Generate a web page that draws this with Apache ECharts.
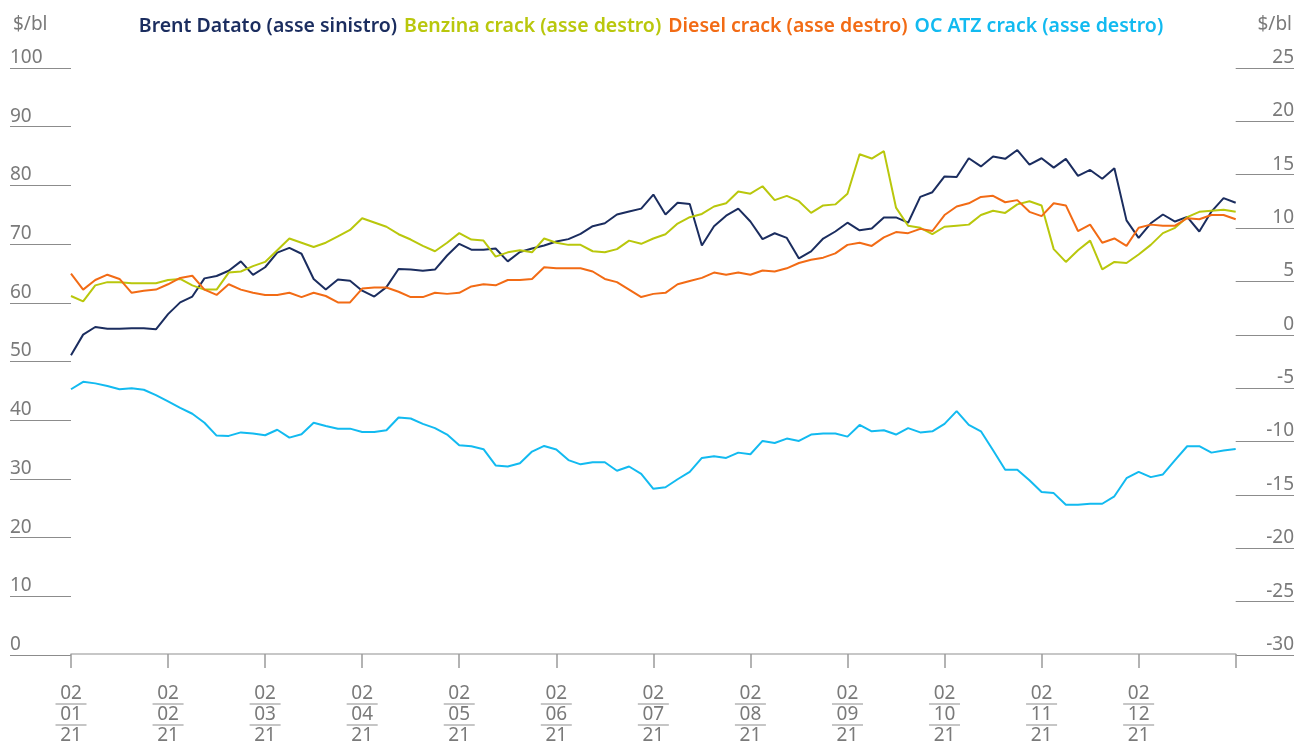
<!DOCTYPE html>
<html>
<head>
<meta charset="utf-8">
<script src="https://cdn.jsdelivr.net/npm/echarts@6/dist/echarts.min.js"></script>
<style>
html,body{margin:0;padding:0;background:#fff;}
#chart{width:1297px;height:745px;}
</style>
</head>
<body>
<div id="chart"></div>
<script>
// ---- DATA ----
const tickLabels = ['02/01/21','02/02/21','02/03/21','02/04/21','02/05/21','02/06/21','02/07/21','02/08/21','02/09/21','02/10/21','02/11/21','02/12/21'];
const seriesNames = ['Brent Datato (asse sinistro)','Benzina crack (asse destro)','Diesel crack (asse destro)','OC ATZ crack (asse destro)'];
const unitLabel = '$/bl';
const POINTS_PER_MONTH = 8; // observations sampled evenly, 8 per month

const brent = [
 51.0, 54.5, 55.8, 55.5, 55.5, 55.6, 55.6, 55.4, 58.0, 60.0,
 61.0, 64.1, 64.5, 65.4, 67.0, 64.7, 66.0, 68.5, 69.3, 68.3,
 64.0, 62.2, 63.9, 63.7, 62.0, 61.0, 62.6, 65.7, 65.6, 65.4,
 65.6, 68.0, 70.0, 69.0, 69.0, 69.2, 67.0, 68.6, 69.2, 69.7,
 70.4, 70.8, 71.7, 73.0, 73.5, 75.0, 75.5, 76.0, 78.4, 75.0,
 77.0, 76.8, 69.7, 73.0, 74.8, 76.0, 73.8, 70.8, 71.8, 71.0,
 67.5, 68.7, 70.9, 72.1, 73.6, 72.3, 72.6, 74.5, 74.5, 73.6,
 78.0, 78.8, 81.5, 81.4, 84.6, 83.2, 84.9, 84.5, 86.0, 83.5,
 84.6, 83.0, 84.5, 81.6, 82.6, 81.1, 82.9, 74.0, 71.0, 73.5,
 75.0, 73.8, 74.6, 72.1, 75.5, 77.8, 77.0
];
const benzina = [
 3.6, 3.1, 4.6, 4.9, 4.9, 4.8, 4.8, 4.8, 5.1, 5.2,
 4.6, 4.2, 4.2, 5.8, 5.9, 6.4, 6.8, 7.9, 9.0, 8.6,
 8.2, 8.6, 9.2, 9.8, 10.9, 10.5, 10.1, 9.4, 8.9, 8.3,
 7.8, 8.6, 9.5, 8.9, 8.8, 7.3, 7.7, 7.9, 7.7, 9.0,
 8.6, 8.4, 8.4, 7.8, 7.7, 8.0, 8.8, 8.5, 9.0, 9.4,
 10.4, 11.0, 11.3, 12.0, 12.3, 13.4, 13.2, 13.9, 12.6, 13.0,
 12.5, 11.4, 12.1, 12.2, 13.2, 16.9, 16.5, 17.2, 11.9, 10.2,
 10.0, 9.4, 10.1, 10.2, 10.3, 11.2, 11.6, 11.4, 12.2, 12.5,
 12.1, 8.0, 6.8, 7.9, 8.8, 6.1, 6.8, 6.7, 7.5, 8.4,
 9.5, 10.0, 11.0, 11.5, 11.6, 11.7, 11.5
];
const diesel = [
 5.7, 4.2, 5.1, 5.6, 5.2, 3.9, 4.1, 4.2, 4.7, 5.3,
 5.5, 4.2, 3.7, 4.7, 4.2, 3.9, 3.7, 3.7, 3.9, 3.5,
 3.9, 3.6, 3.0, 3.0, 4.3, 4.4, 4.4, 4.0, 3.5, 3.5,
 3.9, 3.8, 3.9, 4.5, 4.7, 4.6, 5.1, 5.1, 5.2, 6.3,
 6.2, 6.2, 6.2, 5.9, 5.2, 4.9, 4.2, 3.5, 3.8, 3.9,
 4.7, 5.0, 5.3, 5.8, 5.6, 5.8, 5.6, 6.0, 5.9, 6.2,
 6.7, 7.0, 7.2, 7.6, 8.4, 8.6, 8.3, 9.1, 9.6, 9.5,
 9.9, 9.7, 11.2, 12.0, 12.3, 12.9, 13.0, 12.4, 12.6, 11.5,
 11.1, 12.3, 12.1, 9.7, 10.3, 8.6, 9.0, 8.3, 10.0, 10.3,
 10.2, 10.2, 10.9, 10.8, 11.2, 11.2, 10.8
];
const ocAtz = [
 -5.15, -4.45, -4.6, -4.85, -5.15, -5.06, -5.2, -5.7, -6.3, -6.9,
 -7.45, -8.3, -9.5, -9.53, -9.2, -9.3, -9.47, -8.95, -9.69, -9.37,
 -8.3, -8.6, -8.85, -8.85, -9.16, -9.16, -9.0, -7.8, -7.9, -8.4,
 -8.8, -9.4, -10.4, -10.5, -10.78, -12.3, -12.4, -12.1, -11.0, -10.47,
 -10.8, -11.8, -12.2, -12.0, -12.0, -12.8, -12.4, -13.1, -14.5, -14.35,
 -13.6, -12.9, -11.6, -11.45, -11.6, -11.1, -11.25, -10.0, -10.2, -9.78,
 -10.0, -9.4, -9.3, -9.3, -9.6, -8.5, -9.1, -9.0, -9.4, -8.8,
 -9.2, -9.1, -8.4, -7.2, -8.5, -9.1, -10.87, -12.7, -12.7, -13.7,
 -14.8, -14.9, -16.0, -16.0, -15.9, -15.9, -15.2, -13.5, -12.9, -13.4,
 -13.15, -11.8, -10.5, -10.5, -11.1, -10.9, -10.75
];

// ---- STYLE ----
const colors = ['#1b2d5f', '#b9c70c', '#f26b15', '#12baf0'];
const FONT = 'Noto Sans';
const GRAY = '#7a7a7a';

function pairs(arr){ return arr.map((v,i)=>[i/POINTS_PER_MONTH, v]); }

const chart = echarts.init(document.getElementById('chart'), null, {renderer:'canvas'});

const TOP = 68, BOTTOM = 90;
const unitStyle = {fontFamily: FONT, fontSize: 19, color: GRAY, fontWeight: 'normal'};

const option = {
  animation: false,
  backgroundColor: '#fff',
  textStyle: {fontFamily: FONT},
  title: [
    {text: unitLabel, left: 8, top: 10, textStyle: unitStyle},
    {text: unitLabel, right: 0, top: 10, textStyle: unitStyle}
  ],
  legend: {
    top: 11,
    left: 'center',
    icon: 'none',
    itemWidth: 0,
    itemHeight: 0,
    itemGap: 2,
    selectedMode: false,
    textStyle: {fontFamily: FONT, fontSize: 19.5, fontWeight: 600},
    data: seriesNames.map((n,i)=>({name:n, textStyle:{color:colors[i]}}))
  },
  grid: [
    {left: 71, right: 61.3, top: TOP, bottom: BOTTOM},
    {left: 10, width: 61, top: TOP, bottom: BOTTOM},
    {left: 1235.7, right: 2, top: TOP, bottom: BOTTOM}
  ],
  xAxis: [
    {
      gridIndex: 0, type: 'value', min: 0, max: 12, interval: 1,
      axisLine: {show: true, lineStyle: {color: '#b5b5b5', width: 1.5}},
      axisTick: {show: true, length: 14, lineStyle: {color: '#9a9a9a', width: 1.5}},
      splitLine: {show: false},
      axisLabel: {
        margin: 30,
        formatter: function(v){
          const idx = Math.round(v);
          if (idx < 0 || idx >= tickLabels.length) return '';
          const p = tickLabels[idx].split('/');
          return '{t|' + p[0] + '}\n{l| }\n{t|' + p[1] + '}\n{l| }\n{t|' + p[2] + '}';
        },
        rich: {
          t: {fontFamily: FONT, fontSize: 19, lineHeight: 19, color: GRAY, align: 'center'},
          l: {width: 31, height: 1, lineHeight: 2, fontSize: 1, backgroundColor: '#8c8c8c', align: 'center'}
        }
      }
    },
    {gridIndex: 1, type: 'value', show: false, min: 0, max: 1},
    {gridIndex: 2, type: 'value', show: false, min: 0, max: 1}
  ],
  yAxis: [
    {gridIndex: 0, type: 'value', min: 0, max: 100, interval: 10, show: false, splitLine:{show:false}},
    {gridIndex: 0, type: 'value', min: -30, max: 25, interval: 5, show: false, splitLine:{show:false}, position: 'right'},
    {
      gridIndex: 1, type: 'value', min: 0, max: 100, interval: 10, position: 'left',
      axisLine: {show: false}, axisTick: {show: false},
      splitLine: {show: true, lineStyle: {color: '#8c8c8c', width: 1}},
      axisLabel: {inside: true, margin: 0, fontFamily: FONT, fontSize: 19, color: GRAY, align: 'left', verticalAlign: 'bottom', padding: [0,0,1,0]}
    },
    {
      gridIndex: 2, type: 'value', min: -30, max: 25, interval: 5, position: 'right',
      axisLine: {show: false}, axisTick: {show: false},
      splitLine: {show: true, lineStyle: {color: '#8c8c8c', width: 1}},
      axisLabel: {inside: true, margin: 0, fontFamily: FONT, fontSize: 19, color: GRAY, align: 'right', verticalAlign: 'bottom', padding: [0,0,1,0]}
    }
  ],
  series: [
    {name: seriesNames[0], type: 'line', xAxisIndex: 0, yAxisIndex: 0, data: pairs(brent), showSymbol: false, symbol: 'none', lineStyle: {width: 2, color: colors[0]}, itemStyle:{color: colors[0]}},
    {name: seriesNames[1], type: 'line', xAxisIndex: 0, yAxisIndex: 1, data: pairs(benzina), showSymbol: false, symbol: 'none', lineStyle: {width: 2, color: colors[1]}, itemStyle:{color: colors[1]}},
    {name: seriesNames[2], type: 'line', xAxisIndex: 0, yAxisIndex: 1, data: pairs(diesel), showSymbol: false, symbol: 'none', lineStyle: {width: 2, color: colors[2]}, itemStyle:{color: colors[2]}},
    {name: seriesNames[3], type: 'line', xAxisIndex: 0, yAxisIndex: 1, data: pairs(ocAtz), showSymbol: false, symbol: 'none', lineStyle: {width: 2, color: colors[3]}, itemStyle:{color: colors[3]}}
  ]
};
chart.setOption(option);
</script>
</body>
</html>
